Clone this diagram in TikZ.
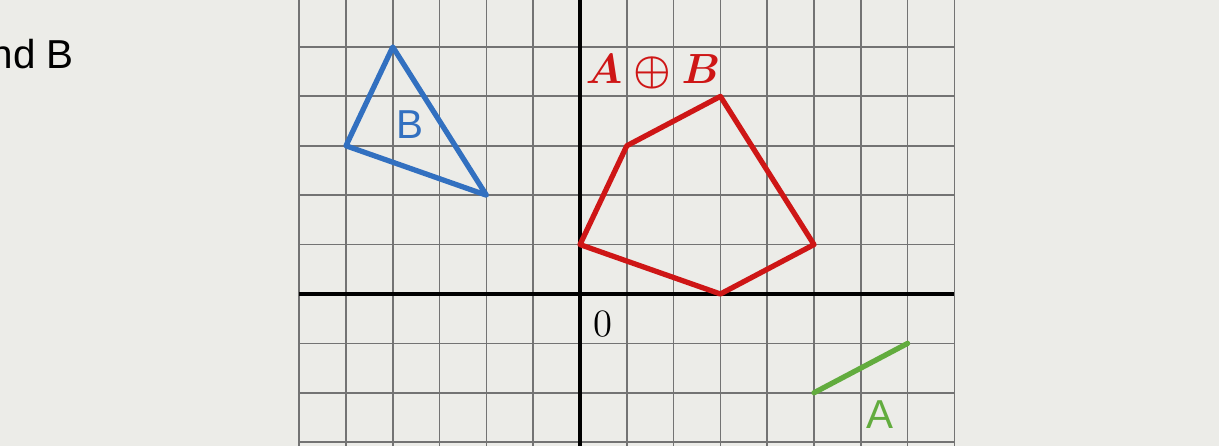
\documentclass[tikz,border=0pt]{standalone}
\usepackage{fontspec}
\setsansfont{Liberation Sans}
\usetikzlibrary{positioning}

\definecolor{paperbg}{RGB}{236,236,232}
\definecolor{setred}{RGB}{206,22,22}
\definecolor{setblue}{RGB}{50,112,192}
\definecolor{setgreen}{RGB}{98,172,62}

\begin{document}
\begin{tikzpicture}[
  x=0.468cm, y=0.494cm,
  gridline/.style={draw=black!55, line width=0.5pt},
  axis/.style={draw=black, line width=1.2pt},
  outline/.style={line width=1.5pt, line join=round, line cap=round},
  lbl/.style={font=\sffamily\fontsize{11.5}{13}\selectfont, inner sep=0pt},
]
  % page and grid
  \fill[paperbg] (-12.393,-3.077) rectangle (13.654,5.951);
  \useasboundingbox (-12.393,-3.077) rectangle (13.654,5.951);
  \foreach \x in {-6,...,8} \draw[gridline] (\x,-3.077) -- (\x,5.951);
  \foreach \y in {-3,...,5} \draw[gridline] (-6,\y) -- (8,\y);
  \draw[axis] (-6,0) -- (8,0);
  \draw[axis] (0,-3.077) -- (0,5.951);

  % the sets
  \draw[outline, setblue] (-4,5) -- (-5,3) -- (-2,2) -- cycle;
  \draw[outline, setred] (0,1) -- (1,3) -- (3,4) -- (5,1) -- (3,0) -- cycle;
  \draw[outline, setgreen] (5,-2) -- (7,-1);

  % labels
  \node[lbl, anchor=east] (title) at (-10.8,4.86) {nd B};
  \node[lbl, text=setblue] (labB) at (-3.63,3.42) {B};
  \node[lbl, text=setgreen] (labA) at (6.41,-2.45) {A};
  \node[inner sep=0pt, text=setred, font=\fontsize{12}{14}\selectfont\boldmath] (sum) at (1.56,4.49) {$A\oplus B$};
  \node[inner sep=0pt, font=\fontsize{11}{13}\selectfont] (orig) at (0.49,-0.6) {0};
\end{tikzpicture}
\end{document}
